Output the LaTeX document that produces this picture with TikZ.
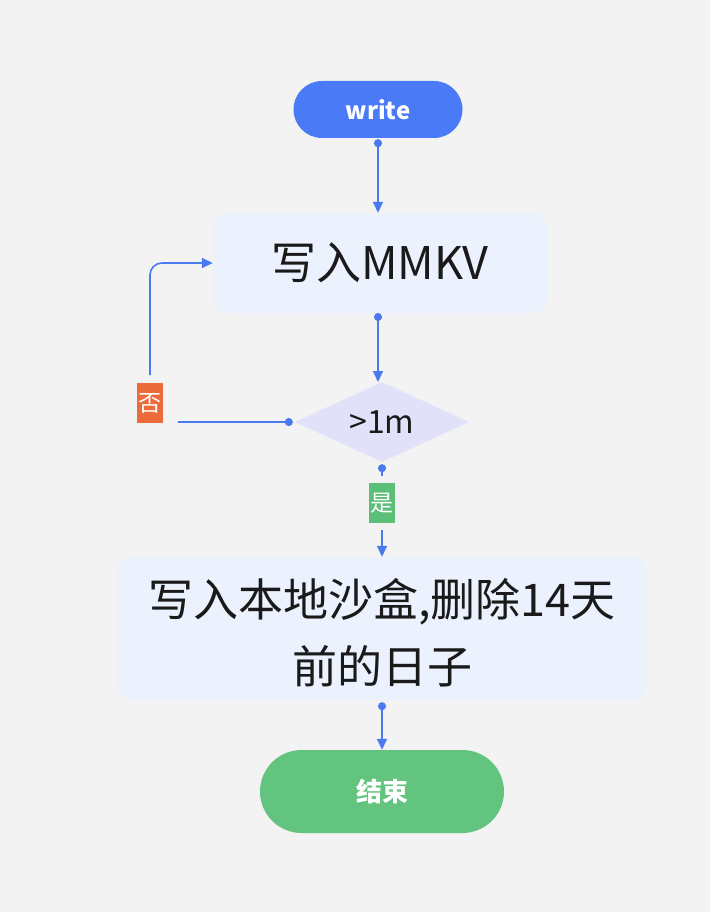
\documentclass[tikz,border=0pt]{standalone}
\usepackage{fontspec}
\setmainfont{Noto Sans CJK SC}
\usetikzlibrary{shapes.geometric,shapes.misc,arrows.meta}
\definecolor{bg}{HTML}{F3F3F3}
\definecolor{blue}{HTML}{4A7AF5}
\definecolor{line}{HTML}{4A7AF0}
\definecolor{boxfill}{HTML}{EBF1FD}
\definecolor{diafill}{HTML}{E1E1FA}
\definecolor{orng}{HTML}{EC6B3A}
\definecolor{grnlab}{HTML}{5CBF79}
\definecolor{grnend}{HTML}{62C47E}
\definecolor{txt}{HTML}{1A1A1A}
\tikzset{
  pill/.style={rounded rectangle, inner sep=0pt, text=white, font=\bfseries\fontsize{24}{30}\selectfont},
  procbox/.style={fill=boxfill, rounded corners=14pt, inner sep=0pt, text=txt, font=\fontsize{45}{67}\selectfont, align=center},
  decis/.style={diamond, fill=diafill, inner sep=0pt, aspect=2.175, minimum width=174pt, minimum height=80pt, text=txt, font=\fontsize{32}{36}\selectfont},
  lab/.style={inner sep=0pt, minimum width=26pt, minimum height=40pt, text=white, font=\fontsize{23}{26}\selectfont},
  conn/.style={draw=line, line width=1.6pt, {Circle[length=8pt]}-{Triangle[length=11pt,width=10pt]}},
  connA/.style={draw=line, line width=1.6pt, {Circle[length=8pt]}-},
  connB/.style={draw=line, line width=1.6pt, -{Triangle[length=11pt,width=10pt]}},
}
\begin{document}
\begin{tikzpicture}[x=1pt,y=-1pt]
\fill[bg] (0,0) rectangle (710,912);
\useasboundingbox (0,0) rectangle (710,912);

\node[pill, fill=blue, minimum width=169pt, minimum height=57pt] (w) at (378,109.5) {write};
\node[procbox, minimum width=334pt, minimum height=100pt] (b1) at (380,263) {写入MMKV};
\node[decis] (d) at (382,422) {>1m};
\node[lab, fill=orng] (no) at (150,403) {否};
\node[lab, fill=grnlab] (yes) at (381.5,503) {是};
\node[procbox, minimum width=528pt, minimum height=143pt] (b2) at (382,628.5) {\rule{0pt}{47pt}写入本地沙盒,删除14天\\前的日子};
\node[pill, fill=grnend, minimum width=244pt, minimum height=83pt, font=\bfseries\fontsize{26}{30}\selectfont] (e) at (382,791.5) {结束};

\coordinate (nA) at (178,422);
\coordinate (nB) at (150,375);
\coordinate (yA) at (382,476);
\coordinate (yB) at (382,530);
\coordinate (mA) at (378,313);
\coordinate (mB) at (378,382);

\draw[conn] ([yshift=-1pt]w.south) -- (w.south |- b1.north);
\draw[conn] (mA) -- (mB);
\draw[connA] ([xshift=-2pt]d.west) -- (nA);
\draw[connB, rounded corners=12pt] (nB) |- (b1.west);
\draw[connA] ([yshift=-2pt]d.south) -- (yA);
\draw[connB] (yB) -- (b2.north);
\draw[conn] ([yshift=-2pt]b2.south) -- (e.north);
\end{tikzpicture}
\end{document}
